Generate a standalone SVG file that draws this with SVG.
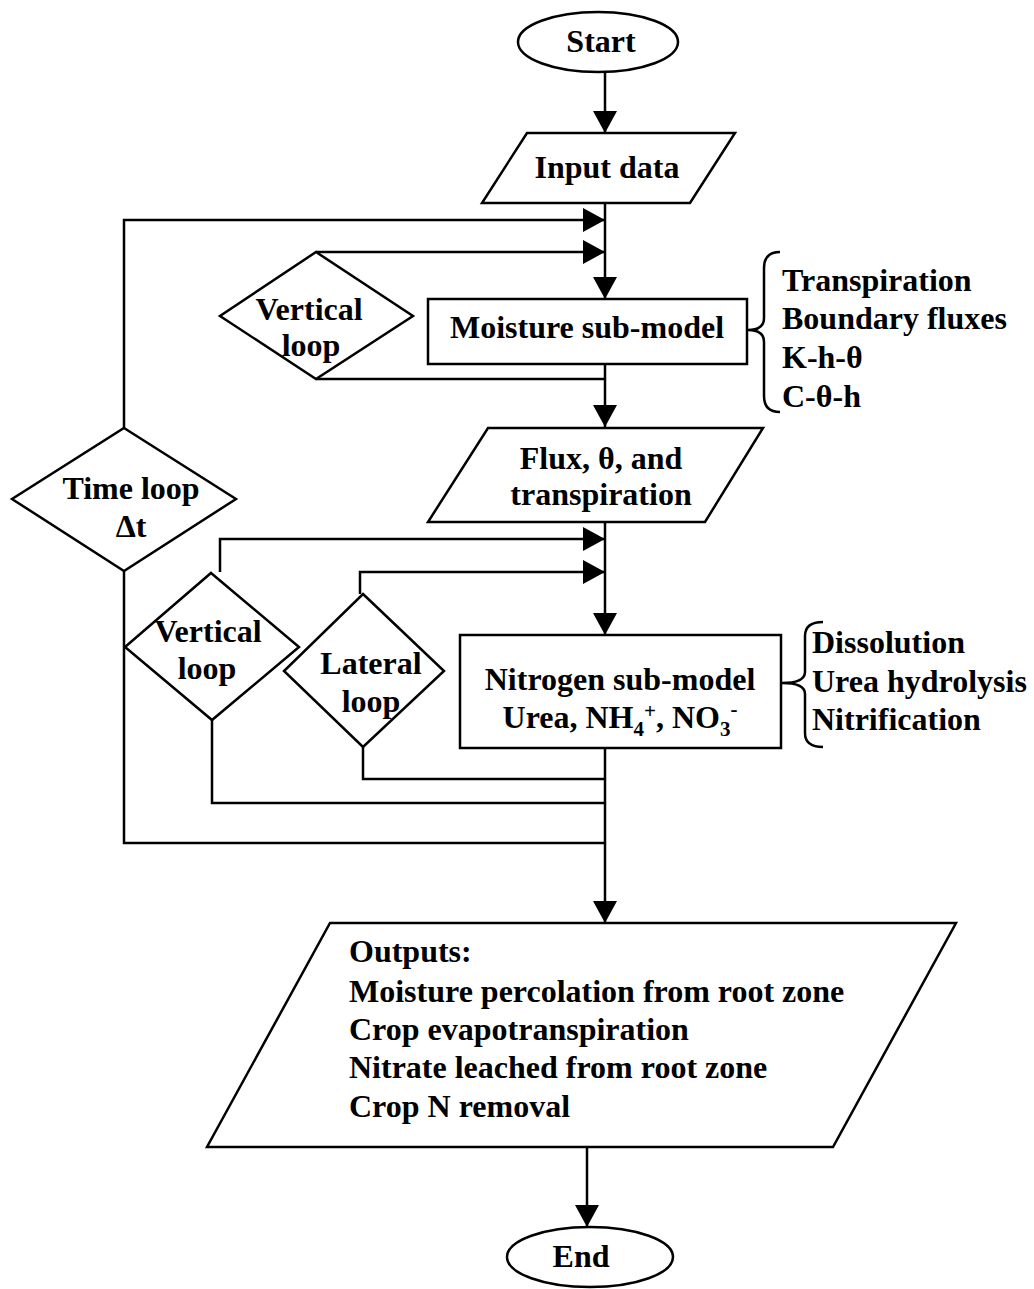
<svg xmlns="http://www.w3.org/2000/svg" width="1034" height="1289" viewBox="0 0 1034 1289">
<defs>
<style>
.s{fill:#fff;stroke:#000;stroke-width:2.5}
.c{fill:none;stroke:#000;stroke-width:2.5}
.t{font-family:"Liberation Serif","Times New Roman",serif;font-weight:bold;font-size:32px;fill:#000}
.m{text-anchor:middle}
.sub{font-size:21px}
</style>
<marker id="ah" markerUnits="userSpaceOnUse" markerWidth="24" markerHeight="26" refX="22" refY="12" orient="auto">
<path d="M0,0 L22,12 L0,24 Z" fill="#000"/>
</marker>
</defs>
<rect width="1034" height="1289" fill="#fff"/>
<g id="connectors">
<line class="c" x1="605" y1="72" x2="605" y2="133" marker-end="url(#ah)"/>
<line class="c" x1="605" y1="203" x2="605" y2="299" marker-end="url(#ah)"/>
<polyline class="c" points="124,428 124,220 605,220" marker-end="url(#ah)"/>
<polyline class="c" points="316,252 605,252" marker-end="url(#ah)"/>
<line class="c" x1="605" y1="364" x2="605" y2="427" marker-end="url(#ah)"/>
<polyline class="c" points="316,379 605,379"/>
<line class="c" x1="605" y1="522" x2="605" y2="635" marker-end="url(#ah)"/>
<polyline class="c" points="220,572 220,539 605,539" marker-end="url(#ah)"/>
<polyline class="c" points="360,594 360,572 605,572" marker-end="url(#ah)"/>
<line class="c" x1="605" y1="748" x2="605" y2="923" marker-end="url(#ah)"/>
<polyline class="c" points="363,747 363,779 605,779"/>
<polyline class="c" points="212,720 212,803 605,803"/>
<polyline class="c" points="124,571 124,843 605,843"/>
<line class="c" x1="587" y1="1147" x2="587" y2="1227" marker-end="url(#ah)"/>
</g>
<g id="start">
<ellipse class="s" cx="598" cy="42" rx="80" ry="30"/>
<text class="t m" x="601" y="52">Start</text>
</g>
<g id="input">
<polygon class="s" points="527,133 735,133 690,203 482,203"/>
<text class="t m" x="607" y="178">Input data</text>
</g>
<g id="moisture">
<rect class="s" x="428" y="299" width="319" height="65"/>
<text class="t m" x="587" y="338">Moisture sub-model</text>
</g>
<g id="moisture-notes">
<path class="c" stroke-width="2" d="M780,252 Q764,252 764,268 L764,318 Q764,330 748,330 Q764,330 764,342 L764,396 Q764,412 780,412"/>
<text class="t" x="782" y="291">Transpiration</text>
<text class="t" x="782" y="329">Boundary fluxes</text>
<text class="t" x="782" y="368">K-h-θ</text>
<text class="t" x="782" y="407">C-θ-h</text>
</g>
<g id="vloop1">
<polygon class="s" points="316,252 413,316 316,379 220,316"/>
<text class="t m" x="309" y="320">Vertical</text>
<text class="t m" x="311" y="356">loop</text>
</g>
<g id="timeloop">
<polygon class="s" points="124,428 236,499 124,571 12,499"/>
<text class="t m" x="131" y="499">Time loop</text>
<text class="t m" x="131" y="537">Δt</text>
</g>
<g id="flux">
<polygon class="s" points="488,428 763,428 705,522 428,522"/>
<text class="t m" x="601" y="469">Flux, θ, and</text>
<text class="t m" x="601" y="505">transpiration</text>
</g>
<g id="vloop2">
<polygon class="s" points="211,573 299,647 212,720 125,647"/>
<text class="t m" x="208" y="642">Vertical</text>
<text class="t m" x="207" y="679">loop</text>
</g>
<g id="lloop">
<polygon class="s" points="363,594 444,671 363,747 284,671"/>
<text class="t m" x="371" y="674">Lateral</text>
<text class="t m" x="371" y="712">loop</text>
</g>
<g id="nitrogen">
<rect class="s" x="460" y="635" width="321" height="113"/>
<text class="t m" x="620" y="690">Nitrogen sub-model</text>
<text class="t m" x="620" y="728">Urea, NH<tspan class="sub" dy="8">4</tspan><tspan class="sub" dy="-18">+</tspan><tspan dy="10">, NO</tspan><tspan class="sub" dy="8">3</tspan><tspan class="sub" dy="-20">-</tspan></text>
</g>
<g id="nitrogen-notes">
<path class="c" stroke-width="2" d="M823,622 Q805,622 805,636 L805,672 Q805,683 782,683 Q805,683 805,694 L805,733 Q805,747 823,747"/>
<text class="t" x="812" y="653">Dissolution</text>
<text class="t" x="812" y="692">Urea hydrolysis</text>
<text class="t" x="812" y="730">Nitrification</text>
</g>
<g id="outputs">
<polygon class="s" points="330,923 956,923 833,1147 207,1147"/>
<text class="t" x="349" y="962">Outputs:</text>
<text class="t" x="349" y="1002">Moisture percolation from root zone</text>
<text class="t" x="349" y="1040">Crop evapotranspiration</text>
<text class="t" x="349" y="1078">Nitrate leached from root zone</text>
<text class="t" x="349" y="1117">Crop N removal</text>
</g>
<g id="end">
<ellipse class="s" cx="590" cy="1257" rx="83" ry="30"/>
<text class="t m" x="581" y="1267">End</text>
</g>
</svg>
